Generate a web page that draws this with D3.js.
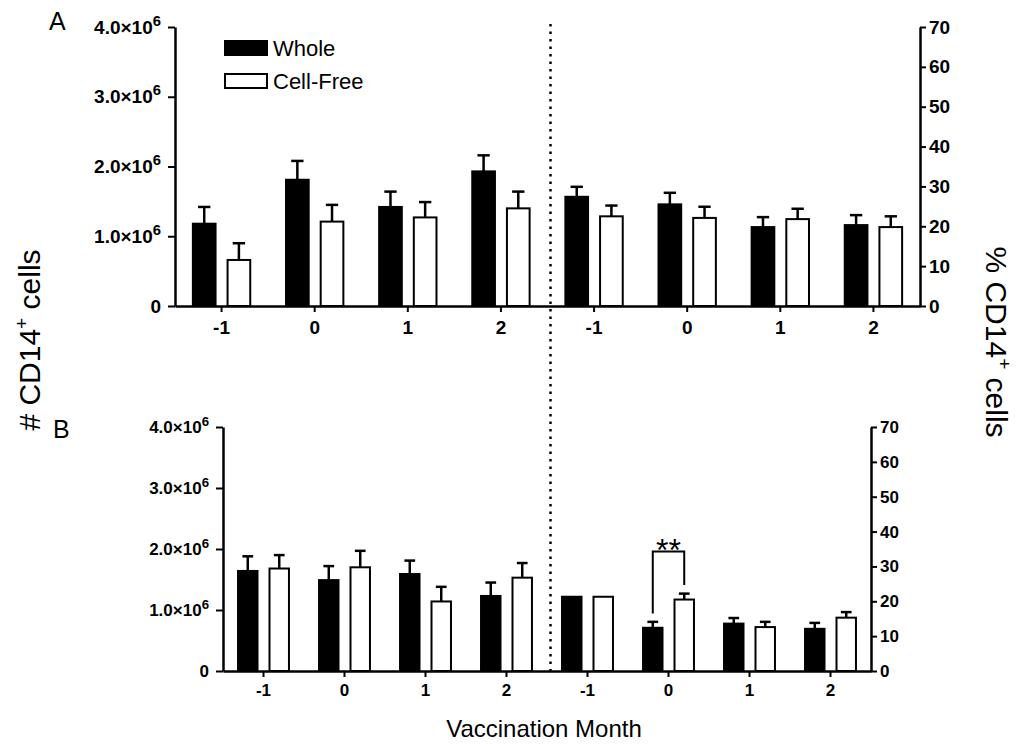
<!DOCTYPE html>
<html>
<head>
<meta charset="utf-8">
<script src="https://cdn.jsdelivr.net/npm/d3@7"></script>
<style>
  body { margin: 0; background: #fff; }
  svg { font-family: "Liberation Sans", Arial, sans-serif; }
</style>
</head>
<body>
<div id="chart"></div>
<script>
// Vaccination months (each panel has a count half and a percent half)
const months = ["-1", "0", "1", "2"];

// Panel A - absolute counts
const countA_whole = [1.18e6, 1.81e6, 1.42e6, 1.93e6];
const countA_wholeErr = [0.24e6, 0.27e6, 0.22e6, 0.23e6];
const countA_free = [0.66e6, 1.21e6, 1.27e6, 1.40e6];
const countA_freeErr = [0.24e6, 0.24e6, 0.22e6, 0.24e6];
// Panel A - percentages
const pctA_whole = [27.4, 25.5, 19.8, 20.3];
const pctA_wholeErr = [2.5, 2.9, 2.5, 2.5];
const pctA_free = [22.5, 22.1, 21.8, 19.8];
const pctA_freeErr = [2.7, 2.8, 2.6, 2.7];

// Panel B - absolute counts
const countB_whole = [1.64e6, 1.49e6, 1.59e6, 1.23e6];
const countB_wholeErr = [0.24e6, 0.23e6, 0.22e6, 0.22e6];
const countB_free = [1.68e6, 1.70e6, 1.14e6, 1.53e6];
const countB_freeErr = [0.22e6, 0.27e6, 0.24e6, 0.24e6];
// Panel B - percentages
const pctB_whole = [21.3, 12.4, 13.6, 12.1];
const pctB_wholeErr = [0, 1.7, 1.6, 1.7];
const pctB_free = [21.3, 20.5, 12.6, 15.3];
const pctB_freeErr = [0, 1.7, 1.5, 1.6];

// axis ticks
const countTicks = [0, 1e6, 2e6, 3e6, 4e6];
const pctTicks = [0, 10, 20, 30, 40, 50, 60, 70];

// significance in panel B (percent half), bracket height in % units
const sigMonth = "0";
const sigTop = 34.3;
const sigLabel = "**";

const svg = d3.select("#chart").append("svg")
    .attr("width", 1016)
    .attr("height", 744);

svg.append("rect").attr("width", 1016).attr("height", 744).attr("fill", "#fff");

function drawPanel(p) {
    const keys = months.map(m => "L" + m).concat(months.map(m => "R" + m));
    const x = d3.scaleBand().domain(keys).range([p.left, p.right]);
    const yL = d3.scaleLinear().domain([0, 4e6]).range([p.bottom, p.top]);
    const yR = d3.scaleLinear().domain([0, 70]).range([p.bottom, p.top]);

    // flatten into bars
    const bars = [];
    months.forEach((m, i) => {
        bars.push({ key: "L" + m, s: "whole", v: p.cW[i], e: p.cWe[i], y: yL });
        bars.push({ key: "L" + m, s: "free", v: p.cF[i], e: p.cFe[i], y: yL });
        bars.push({ key: "R" + m, s: "whole", v: p.pW[i], e: p.pWe[i], y: yR });
        bars.push({ key: "R" + m, s: "free", v: p.pF[i], e: p.pFe[i], y: yR });
    });

    const bw = x.bandwidth() * 0.265;
    const off = bw / 2 + 5;
    const cx = d => x(d.key) + x.bandwidth() / 2 + (d.s === "whole" ? -off : off);

    const g = svg.append("g");

    // error bars (upper only)
    const err = g.append("g").selectAll("g").data(bars.filter(d => d.e > 0)).join("g")
        .attr("stroke", "#000").attr("stroke-width", 2.5);
    err.append("line")
        .attr("x1", cx).attr("x2", cx)
        .attr("y1", d => d.y(d.v)).attr("y2", d => d.y(d.v + d.e));
    err.append("line")
        .attr("x1", d => cx(d) - bw / 4).attr("x2", d => cx(d) + bw / 4)
        .attr("y1", d => d.y(d.v + d.e)).attr("y2", d => d.y(d.v + d.e));

    // bars
    g.append("g").selectAll("rect").data(bars).join("rect")
        .attr("x", d => cx(d) - bw / 2 + 1)
        .attr("width", bw - 2)
        .attr("y", d => d.y(d.v))
        .attr("height", d => p.bottom - d.y(d.v))
        .attr("fill", d => d.s === "whole" ? "#000" : "#fff")
        .attr("stroke", "#000")
        .attr("stroke-width", 2);

    // axes
    const axL = g.append("g").attr("transform", `translate(${p.left},0)`)
        .call(d3.axisLeft(yL).tickValues(countTicks).tickSize(7).tickSizeOuter(0).tickPadding(p.padL)
            .tickFormat(d => d === 0 ? "0" : (d / 1e6).toFixed(1) + "×10"));
    axL.selectAll(".tick text").filter(d => d > 0)
        .append("tspan").attr("dy", -p.fs * 0.42).attr("font-size", p.fs * 0.78).text("6");

    const axR = g.append("g").attr("transform", `translate(${p.right},0)`)
        .call(d3.axisRight(yR).tickValues(pctTicks).tickSize(6).tickSizeOuter(0).tickPadding(3));

    const axB = g.append("g").attr("transform", `translate(0,${p.bottom})`)
        .call(d3.axisBottom(x).tickSize(6).tickSizeOuter(0).tickPadding(p.padX).tickFormat(k => k.slice(1)));

    [axL, axR, axB].forEach(a => {
        a.attr("font-size", p.fs).attr("font-family", "Liberation Sans, Arial, sans-serif");
        a.select(".domain").attr("stroke", "#000").attr("stroke-width", 2.5);
        a.selectAll(".tick line").attr("stroke", "#000").attr("stroke-width", 2);
        a.selectAll(".tick text").attr("fill", "#000").attr("font-weight", "bold");
    });

    // panel letter
    svg.append("text").attr("x", p.letterX).attr("y", p.letterY)
        .attr("font-size", 25).text(p.letter);

    return { x, yL, yR, bars, cx, bw };
}

const A = drawPanel({
    left: 175, right: 920, top: 27, bottom: 306, fs: 19, padL: 7, padX: 9,
    cW: countA_whole, cWe: countA_wholeErr, cF: countA_free, cFe: countA_freeErr,
    pW: pctA_whole, pWe: pctA_wholeErr, pF: pctA_free, pFe: pctA_freeErr,
    letter: "A", letterX: 49, letterY: 30
});

const B = drawPanel({
    left: 223, right: 871, top: 427, bottom: 671, fs: 17, padL: 7, padX: 7,
    cW: countB_whole, cWe: countB_wholeErr, cF: countB_free, cFe: countB_freeErr,
    pW: pctB_whole, pWe: pctB_wholeErr, pF: pctB_free, pFe: pctB_freeErr,
    letter: "B", letterX: 53, letterY: 438
});

// dotted divider between count and percent halves
const divX = A.x("R-1") + 3;
svg.append("line")
    .attr("x1", divX).attr("x2", divX)
    .attr("y1", 24).attr("y2", 671)
    .attr("stroke", "#000").attr("stroke-width", 2.5)
    .attr("stroke-dasharray", "2.5,5");

// legend
const legend = svg.append("g");
legend.append("rect").attr("x", 224).attr("y", 40).attr("width", 44).attr("height", 16).attr("fill", "#000");
legend.append("rect").attr("x", 225).attr("y", 74).attr("width", 42).attr("height", 14)
    .attr("fill", "#fff").attr("stroke", "#000").attr("stroke-width", 2);
legend.append("text").attr("x", 273).attr("y", 56).attr("font-size", 22).text("Whole");
legend.append("text").attr("x", 273).attr("y", 89).attr("font-size", 22).text("Cell-Free");

// significance bracket in panel B
const sigW = B.bars.find(d => d.key === "R" + sigMonth && d.s === "whole");
const sigF = B.bars.find(d => d.key === "R" + sigMonth && d.s === "free");
const yTop = B.yR(sigTop);
svg.append("path")
    .attr("d", `M${B.cx(sigW)},${B.yR(sigW.v + sigW.e + 2.4)}V${yTop}H${B.cx(sigF)}V${B.yR(sigF.v + sigF.e + 2.5)}`)
    .attr("fill", "none").attr("stroke", "#000").attr("stroke-width", 2);
svg.append("text")
    .attr("x", (B.cx(sigW) + B.cx(sigF)) / 2)
    .attr("y", yTop + 10)
    .attr("text-anchor", "middle")
    .attr("font-size", 32)
    .text(sigLabel);

// axis titles
const leftTitle = svg.append("text")
    .attr("transform", "translate(40,340) rotate(-90)")
    .attr("text-anchor", "middle").attr("font-size", 30);
leftTitle.append("tspan").text("# CD14");
leftTitle.append("tspan").attr("dy", -12).attr("font-size", 19).text("+");
leftTitle.append("tspan").attr("dy", 12).text(" cells");

const rightTitle = svg.append("text")
    .attr("transform", "translate(986,342) rotate(90)")
    .attr("text-anchor", "middle").attr("font-size", 30);
rightTitle.append("tspan").text("% CD14");
rightTitle.append("tspan").attr("dy", -12).attr("font-size", 19).text("+");
rightTitle.append("tspan").attr("dy", 12).text(" cells");

svg.append("text")
    .attr("x", 544).attr("y", 737)
    .attr("text-anchor", "middle").attr("font-size", 24)
    .text("Vaccination Month");
</script>
</body>
</html>
